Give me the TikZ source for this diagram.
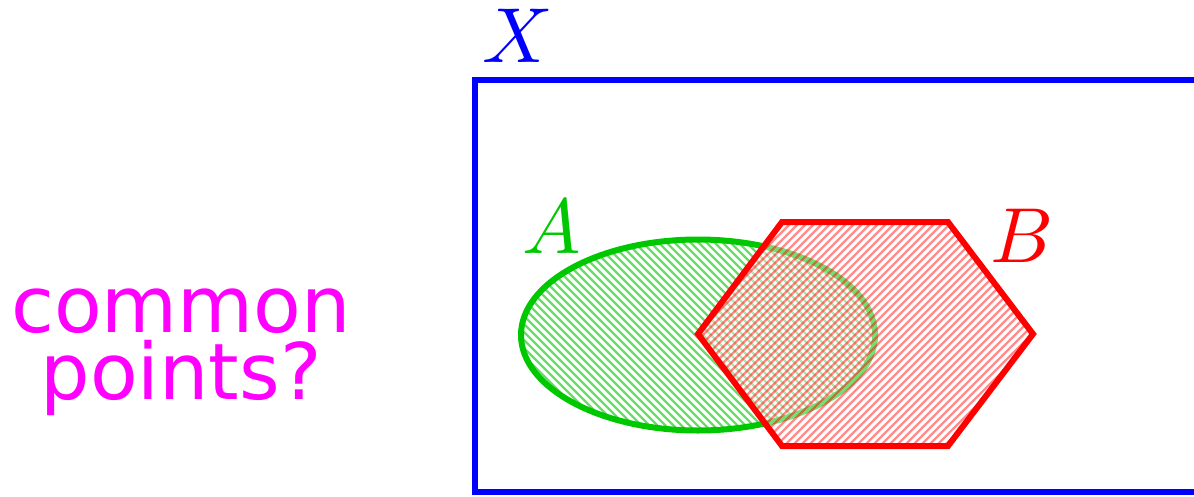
\documentclass[tikz,border=0pt]{standalone}
\usepackage{fontspec}
\newfontfamily\labfont{DejaVu Sans}
\usetikzlibrary{shapes.geometric}
\definecolor{setgreen}{RGB}{0,200,0}
\definecolor{qmagenta}{RGB}{255,0,255}
\tikzset{
  setline/.style={line width=6pt, line join=miter},
  lab/.style={scale=7.8, transform shape, inner sep=0pt},
  ghatch/.style={line width=2.3pt, setgreen!60},
  rhatch/.style={line width=2.3pt, red, opacity=0.45},
}
\begin{document}
\begin{tikzpicture}[x=1pt,y=-1pt]
\useasboundingbox (0,0) rectangle (1194,496);
\begin{scope}
\clip (0,0) rectangle (1194,496);
\draw[blue, setline] (475,80) coordinate (X1) rectangle (1240,492) coordinate (X2);
\end{scope}
\node[lab, text=blue] (Xl) at (518,36) {$X$};
% set A
\coordinate (A) at (698,335);
\begin{scope}
\clip (A) ellipse [x radius=177, y radius=95.5];
\foreach \c in {80,88,...,650} \draw[ghatch] (\c+200,200) -- (\c+460,460);
\end{scope}
\draw[setgreen, setline] (A) ellipse [x radius=177, y radius=95.5];
\node[lab, text=setgreen] (Al) at (552,227) {$A$};
% set B
\path (782,222) coordinate (h1) (948,222) coordinate (h2) (1033,334) coordinate (h3)
      (948,446) coordinate (h4) (782,446) coordinate (h5) (698,334) coordinate (h6);
\fill[white, opacity=0.45] (h1) -- (h2) -- (h3) -- (h4) -- (h5) -- (h6) -- cycle;
\begin{scope}
\clip (h1) -- (h2) -- (h3) -- (h4) -- (h5) -- (h6) -- cycle;
\foreach \c in {910,918,...,1490} \draw[rhatch] (\c-200,200) -- (\c-460,460);
\end{scope}
\draw[red, setline] (h1) -- (h2) -- (h3) -- (h4) -- (h5) -- (h6) -- cycle;
\node[lab, text=red] (Bl) at (1022,236) {$B$};
\node[text=qmagenta, font=\labfont\fontsize{78}{67}\selectfont, align=center, inner sep=0pt] (q) at (181,352) {common\\points?};
\end{tikzpicture}
\end{document}
